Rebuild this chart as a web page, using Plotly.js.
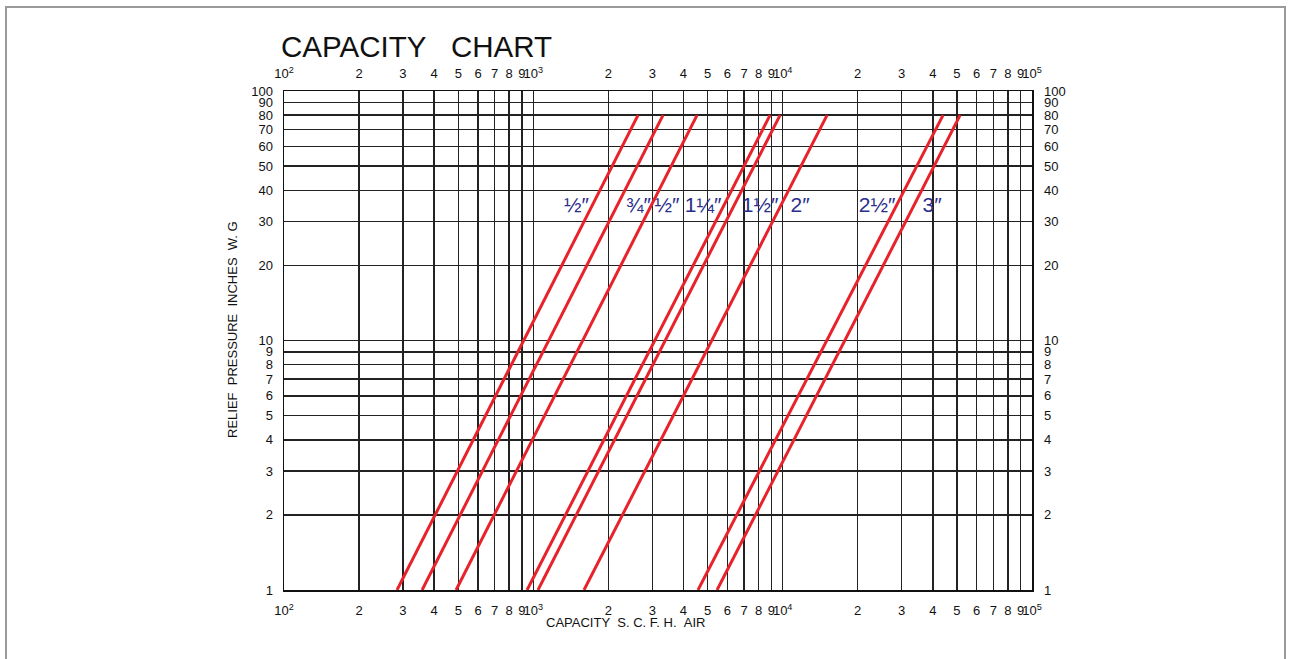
<!DOCTYPE html>
<html>
<head>
<meta charset="utf-8">
<script src="https://cdn.plot.ly/plotly-3.0.1.min.js"></script>
<style>
  html, body { margin: 0; padding: 0; background: #fff; width: 1290px; height: 659px; overflow: hidden; }
  #frame { position: absolute; left: 5px; top: 6px; width: 1281px; height: 700px; border: 2px solid #9a9a9a; box-sizing: border-box; }
  #chart { position: absolute; left: 0; top: 0; width: 1290px; height: 659px; }
</style>
</head>
<body>
<div id="frame"></div>
<div id="chart"></div>
<script>
// ---- data ----
const sizes = ['1/2"', '3/4"', '1"', '1-1/4"', '1-1/2"', '2"', '2-1/2"', '3"'];
const pressureEnds = [1, 80];                        // inches W.G. at the two ends of every line
const flowAtLow  = [284, 358, 490, 944, 1044, 1597, 4576, 5456];     // SCFH at 1 in. W.G.
const flowAtHigh = [2630, 3313, 4536, 8899, 9765, 15070, 43990, 51500]; // SCFH at 80 in. W.G.

const labelText  = ['½″', '¾″', '½″', '1¼″', '1½″', '2″', '2½″', '3″'];
const labelFlow  = [1490, 2640, 3437, 4795, 8118, 11740, 23920, 39730];
const labelPress = [34.3, 34.3, 34.3, 34.3, 34.3, 34.3, 34.3, 34.3];

const xTickVals = [];
const xTickText = [];
[100, 1000, 10000].forEach((d, i) => {
  for (let m = 1; m <= 9; m++) {
    xTickVals.push(d * m);
    xTickText.push(m === 1 ? '10<sup>' + (i + 2) + '</sup>' : String(m));
  }
});
xTickVals.push(100000); xTickText.push('10<sup>5</sup>');

const yTickVals = [1,2,3,4,5,6,7,8,9,10,20,30,40,50,60,70,80,90,100];
const yTickText = yTickVals.map(String);

// ---- traces ----
const traces = [];
traces.push({
  x: labelFlow, y: labelPress, text: labelText, mode: 'text', type: 'scatter',
  textfont: { family: 'Liberation Sans, Arial, sans-serif', size: 21, color: '#2a2d8c' },
  hoverinfo: 'skip', showlegend: false
});
sizes.forEach((s, i) => {
  traces.push({
    x: [flowAtLow[i], flowAtHigh[i]], y: pressureEnds, name: s,
    mode: 'lines', type: 'scatter',
    line: { color: '#e8222b', width: 3 }, showlegend: false
  });
});
// invisible traces to activate the mirrored top / right axes
traces.push({ x: [100, 100000], y: [1, 100], xaxis: 'x2', yaxis: 'y2', mode: 'markers',
  marker: { opacity: 0 }, hoverinfo: 'skip', showlegend: false });

const tickFont = { family: 'Liberation Sans, Arial, sans-serif', size: 13, color: '#111' };
const yTickFont = { family: 'Liberation Sans, Arial, sans-serif', size: 13, color: '#111' };
const gridC = '#222';

const layout = {
  width: 1290, height: 659,
  margin: { l: 284, r: 258, t: 91, b: 69 },
  paper_bgcolor: 'rgba(0,0,0,0)', plot_bgcolor: '#fff',
  showlegend: false,
  xaxis: {
    type: 'log', range: [2, 5], tickvals: xTickVals, ticktext: xTickText, tickangle: 0,
    tickfont: tickFont, ticks: '', ticklabelstandoff: 8,
    showgrid: true, gridcolor: gridC, gridwidth: 1.5,
    showline: true, linecolor: '#111', linewidth: 1.5, mirror: true, zeroline: false
  },
  yaxis: {
    type: 'log', range: [0, 2], tickvals: yTickVals, ticktext: yTickText,
    tickfont: yTickFont, ticks: '', ticklabelstandoff: 7,
    showgrid: true, gridcolor: gridC, gridwidth: 1.5,
    showline: true, linecolor: '#111', linewidth: 1.5, mirror: true, zeroline: false
  },
  xaxis2: {
    type: 'log', range: [2, 5], overlaying: 'x', side: 'top', anchor: 'y', tickangle: 0,
    tickvals: xTickVals, ticktext: xTickText, tickfont: tickFont, ticks: '',
    ticklabelstandoff: 9, showgrid: false, zeroline: false, showline: false
  },
  yaxis2: {
    type: 'log', range: [0, 2], overlaying: 'y', side: 'right', anchor: 'x',
    tickvals: yTickVals, ticktext: yTickText, tickfont: yTickFont, ticks: '',
    ticklabelstandoff: 11, showgrid: false, zeroline: false, showline: false
  },
  annotations: [
    { text: 'CAPACITY\u00A0\u00A0\u00A0CHART', xref: 'paper', yref: 'paper', x: (279 - 284) / 748, y: 1 + (91 - 47) / 499,
      xanchor: 'left', yanchor: 'middle', showarrow: false,
      font: { family: 'Liberation Sans, Arial, sans-serif', size: 29.5, color: '#111' } },
    { text: 'CAPACITY\u00A0\u00A0S. C. F. H.\u00A0\u00A0AIR', xref: 'paper', yref: 'paper', x: (625 - 284) / 748, y: -(622 - 590) / 499,
      xanchor: 'center', yanchor: 'middle', showarrow: false,
      font: { family: 'Liberation Sans, Arial, sans-serif', size: 13, color: '#111' } },
    { text: 'RELIEF\u00A0\u00A0PRESSURE\u00A0\u00A0INCHES\u00A0\u00A0W. G', xref: 'paper', yref: 'paper', x: -(284 - 232) / 748, y: (590 - 330) / 499,
      xanchor: 'center', yanchor: 'middle', showarrow: false, textangle: -90,
      font: { family: 'Liberation Sans, Arial, sans-serif', size: 13, color: '#111' } }
  ]
};

Plotly.newPlot('chart', traces, layout, { staticPlot: true, displayModeBar: false });
</script>
</body>
</html>
